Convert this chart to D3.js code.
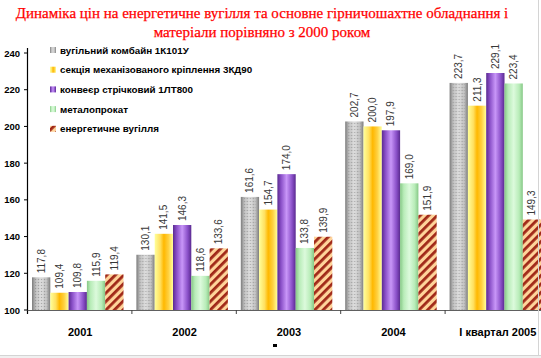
<!DOCTYPE html>
<html><head><meta charset="utf-8">
<script src="https://cdn.jsdelivr.net/npm/d3@7"></script>
<style>
html,body{margin:0;padding:0;background:#fff;overflow:hidden}
svg{display:block}
.ttl{font-family:'Liberation Serif','Times New Roman',serif}
.sans{font-family:'Liberation Sans',Arial,sans-serif}
</style></head>
<body>
<svg id="c" width="541" height="358"></svg>
<script>
const categories = ["2001", "2002", "2003", "2004", "I квартал 2005"];
const seriesNames = ["вугільний комбайн 1К101У", "секція механізованого кріплення 3КД90", "конвеєр стрічковий 1ЛТ800", "металопрокат", "енергетичне вугілля"];
const combine1K101U = [117.8, 130.1, 161.6, 202.7, 223.7];
const section3KD90 = [109.4, 141.5, 154.7, 200.0, 211.3];
const conveyor1LT800 = [109.8, 146.3, 174.0, 197.9, 229.1];
const metalRolled = [115.9, 118.6, 133.8, 169.0, 223.4];
const energyCoal = [119.4, 133.6, 139.9, 151.9, 149.3];
const seriesValues = [combine1K101U, section3KD90, conveyor1LT800, metalRolled, energyCoal];
const yTicks = [100, 120, 140, 160, 180, 200, 220, 240];
const titleLines = ["Динаміка цін на енергетичне вугілля та основне гірничошахтне обладнання і", "матеріали порівняно з 2000 роком"];

const svg = d3.select("#c");
const defs = svg.append("defs");

const grads = [
  [[0,"#7c7c7c"],[0.18,"#b8b8b8"],[0.5,"#dadada"],[0.82,"#b8b8b8"],[1,"#7c7c7c"]],
  [[0,"#ffff9a"],[0.3,"#ffe060"],[0.5,"#ffb800"],[0.75,"#ffd040"],[1,"#ffff9a"]],
  [[0,"#5a2a90"],[0.2,"#8a50c8"],[0.5,"#c896f8"],[0.8,"#8a50c8"],[1,"#5a2a90"]],
  [[0,"#86c886"],[0.2,"#b8ecb8"],[0.5,"#dcfadc"],[0.8,"#b8ecb8"],[1,"#86c886"]]
];
grads.forEach((stops, i) => {
  const g = defs.append("linearGradient").attr("id", "g" + i).attr("x1", 0).attr("x2", 1).attr("y1", 0).attr("y2", 0);
  stops.forEach(s => g.append("stop").attr("offset", s[0]).attr("stop-color", s[1]));
});
const dots = defs.append("pattern").attr("id", "dots").attr("patternUnits", "userSpaceOnUse").attr("width", 3).attr("height", 3);
dots.append("rect").attr("x", 0).attr("y", 0).attr("width", 1).attr("height", 1).attr("fill", "#707070").attr("opacity", 0.45);
dots.append("rect").attr("x", 1.5).attr("y", 1.5).attr("width", 1).attr("height", 1).attr("fill", "#ffffff").attr("opacity", 0.5);
const hatch = defs.append("pattern").attr("id", "hatch").attr("patternUnits", "userSpaceOnUse")
  .attr("width", 6).attr("height", 6).attr("patternTransform", "rotate(45)");
hatch.append("rect").attr("width", 6).attr("height", 6).attr("fill", "#ffd49a");
hatch.append("rect").attr("x", 0).attr("y", 0).attr("width", 2.8).attr("height", 6).attr("fill", "#a02818");

const fills = ["url(#g0)", "url(#g1)", "url(#g2)", "url(#g3)", "url(#hatch)"];

const y = d3.scaleLinear().domain([100, 240]).range([310, 53]);
const x0 = d3.scaleBand().domain(categories).range([32, 541.1]).paddingInner(0.1236).paddingOuter(0);
const x1 = d3.scaleBand().domain(d3.range(seriesNames.length)).range([0, x0.bandwidth()]).padding(0);

const title = svg.append("g");
titleLines.forEach((t, i) => {
  title.append("text").attr("class", "ttl").attr("x", 262).attr("y", 18 + i * 19)
    .attr("text-anchor", "middle")
    .attr("font-size", 15).attr("fill", "#ff0000").attr("stroke", "#ff0000").attr("stroke-width", 0.25)
    .text(t);
});

const plot = svg.append("g");
categories.forEach((c, ci) => {
  const g = plot.append("g").attr("transform", `translate(${x0(c)},0)`);
  seriesValues.forEach((vals, si) => {
    const v = vals[ci];
    const bx = x1(si), bw = x1.bandwidth();
    g.append("rect").attr("x", bx).attr("y", y(v)).attr("width", bw).attr("height", y(100) - y(v))
      .attr("fill", fills[si]);
    if (si === 0) {
      g.append("rect").attr("x", bx + 3).attr("y", y(v)).attr("width", bw - 6).attr("height", y(100) - y(v))
        .attr("fill", "url(#dots)");
    }
    const lx = bx + bw / 2 + 3.5, ly = y(v) - 4;
    g.append("text").attr("class", "sans").attr("transform", `translate(${lx},${ly}) rotate(-90)`)
      .attr("font-size", 10).attr("fill", "#383838")
      .text(d3.format(".1f")(v).replace(".", ","));
  });
});

const axis = svg.append("g").attr("stroke", "#000");
axis.append("line").attr("x1", 27.5).attr("x2", 27.5).attr("y1", 48).attr("y2", 314).attr("stroke-width", 1.2);
axis.append("line").attr("x1", 27.5).attr("x2", 541).attr("y1", 310.5).attr("y2", 310.5).attr("stroke", "#606060");
yTicks.forEach(t => {
  axis.append("line").attr("x1", 24).attr("x2", 27.5).attr("y1", y(t)).attr("y2", y(t));
});
svg.append("g").selectAll("text").data(yTicks).join("text").attr("class", "sans")
  .attr("x", 20).attr("y", d => y(d) + 3.5).attr("text-anchor", "end")
  .attr("font-size", 9.5).attr("font-weight", "bold")
  .attr("fill", "#000").text(d => d);
categories.slice(1).forEach(c => {
  axis.append("line").attr("x1", x0(c) - 4.5).attr("x2", x0(c) - 4.5).attr("y1", 310).attr("y2", 314).attr("stroke", "#404040");
});
svg.append("g").selectAll("text").data(categories).join("text").attr("class", "sans")
  .attr("x", d => x0(d) - 4 + x0.step() / 2).attr("y", 336).attr("text-anchor", "middle")
  .attr("font-size", 11).attr("font-weight", "bold")
  .attr("fill", "#000").text(d => d);

const leg = svg.append("g");
seriesNames.forEach((n, i) => {
  const ly = 50 + i * 19.7;
  leg.append("rect").attr("x", 50).attr("y", ly - 3).attr("width", 6).attr("height", 6).attr("fill", fills[i]);
  leg.append("text").attr("class", "sans").attr("x", 60).attr("y", ly + 3.5)
    .attr("font-size", 9.8).attr("font-weight", "bold")
    .attr("fill", "#000").text(n);
});

svg.append("rect").attr("x", 273).attr("y", 344).attr("width", 4).attr("height", 3).attr("fill", "#000");
svg.append("line").attr("x1", 0).attr("x2", 541).attr("y1", 355.5).attr("y2", 355.5).attr("stroke", "#d4d4d4");
svg.append("rect").attr("x", 0).attr("y", 356).attr("width", 541).attr("height", 2).attr("fill", "#f0f0f0");
svg.append("line").attr("x1", 538.5).attr("x2", 538.5).attr("y1", 0).attr("y2", 356).attr("stroke", "#d4d4d4");
</script>
</body></html>
